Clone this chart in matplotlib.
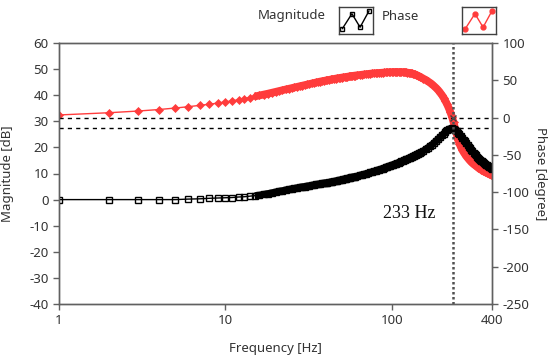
import numpy as np
import matplotlib
matplotlib.use('Agg')
import matplotlib.pyplot as plt
from matplotlib.ticker import NullLocator

plt.rcParams['font.family'] = ['Noto Sans', 'DejaVu Sans']
plt.rcParams['axes.unicode_minus'] = False

# frequency points [Hz]
freq = [1, 2, 3, 4, 5, 6, 7, 8, 9, 10, 11, 12, 13, 14, 15, 16, 17, 18, 19, 20,
        21, 22, 23, 24, 25, 26, 27, 28, 29, 30, 31, 32, 33, 34, 35, 36, 37, 38, 39, 40,
        41, 42, 43, 44, 45, 46, 47, 48, 49, 50, 51, 52, 53, 54, 55, 56, 57, 58, 59, 60,
        62, 64, 66, 68, 70, 72, 74, 76, 78, 80, 82, 84, 86, 88, 90, 92, 94, 96, 98, 100,
        102, 104, 106, 108, 110, 112, 114, 116, 118, 120, 122, 124, 126, 128, 130,
        132, 134, 136, 138, 140, 142, 144, 146, 148, 150,
        155, 160, 165, 170, 175, 180, 185, 190, 195, 200, 205, 210, 215, 220, 225,
        230, 235, 240, 245, 250, 255, 260, 265, 270, 275, 280, 285, 290, 295, 300,
        305, 310, 315, 320, 325, 330, 335, 340, 345, 350, 355, 360, 365, 370, 375,
        380, 385, 390, 395, 400]

# magnitude [dB]
magnitude = [0, 0, 0, 0, 0, 0.2, 0.3, 0.5, 0.6, 0.7, 0.8, 1.0, 1.1, 1.3, 1.5, 1.7, 2.0, 2.3, 2.6, 2.9,
             3.2, 3.4, 3.7, 3.9, 4.1, 4.3, 4.5, 4.7, 4.9, 5.0, 5.2, 5.3, 5.5, 5.6, 5.8, 5.9, 6.0, 6.2, 6.3, 6.4,
             6.5, 6.6, 6.8, 6.9, 7.0, 7.1, 7.3, 7.4, 7.5, 7.6, 7.8, 7.9, 8.0, 8.1, 8.3, 8.4, 8.5, 8.6, 8.7, 8.8,
             9.0, 9.3, 9.5, 9.7, 9.9, 10.1, 10.4, 10.6, 10.8, 11.0, 11.3, 11.5, 11.7, 11.9, 12.1, 12.4, 12.6, 12.8, 13.0, 13.2,
             13.4, 13.6, 13.8, 14.0, 14.2, 14.4, 14.6, 14.8, 15.0, 15.2, 15.4, 15.6, 15.8, 16.0, 16.2,
             16.4, 16.6, 16.8, 17.0, 17.2, 17.4, 17.6, 17.8, 18.0, 18.2,
             18.7, 19.3, 19.9, 20.5, 21.1, 21.8, 22.5, 23.2, 23.9, 24.6, 25.3, 25.9, 26.5, 26.9, 27.2,
             27.3, 27.1, 26.7, 26.2, 25.6, 25.0, 24.4, 23.7, 23.0, 22.3, 21.6, 20.9, 20.3, 19.7, 19.1,
             18.5, 18.0, 17.5, 17.0, 16.5, 16.1, 15.7, 15.3, 14.9, 14.6, 14.3, 14.0, 13.7, 13.4, 13.1,
             12.8, 12.6, 12.3, 12.1, 11.9]

# phase [degree]
phase = [3.5, 6.5, 8.8, 10.8, 12.8, 14.6, 16.3, 17.9, 19.4, 20.9, 22.4, 23.9, 25.4, 26.9, 28.3, 29.6, 30.9, 32.1, 33.3, 34.5,
         35.6, 36.7, 37.7, 38.7, 39.6, 40.5, 41.4, 42.2, 43.0, 43.8, 44.5, 45.2, 45.9, 46.5, 47.1, 47.7, 48.3, 48.8, 49.3, 49.8,
         50.2, 50.7, 51.1, 51.5, 51.9, 52.3, 52.7, 53.0, 53.4, 53.7, 54.0, 54.3, 54.6, 54.9, 55.2, 55.4, 55.7, 55.9, 56.2, 56.4,
         56.8, 57.2, 57.6, 58.0, 58.3, 58.6, 58.9, 59.2, 59.4, 59.7, 59.9, 60.1, 60.3, 60.4, 60.6, 60.7, 60.8, 60.9, 61.0, 61.1,
         61.1, 61.2, 61.2, 61.2, 61.2, 61.2, 61.1, 61.1, 61.0, 60.8, 60.6, 60.4, 60.2, 59.9, 59.6,
         59.2, 58.8, 58.3, 57.8, 57.2, 56.6, 56.0, 55.4, 54.7, 54.0,
         52.3, 50.5, 48.6, 46.6, 44.4, 42.0, 39.5, 36.7, 33.6, 30.2, 26.4, 22.2, 17.6, 12.6, 7.0,
         1.0, -6.5, -14.5, -22.5, -29.5, -35.0, -39.5, -43.3, -46.5, -49.3, -51.8, -54.0, -56.0, -57.8, -59.5,
         -61.0, -62.4, -63.7, -64.9, -66.0, -67.0, -68.0, -68.9, -69.8, -70.6, -71.4, -72.2, -72.9, -73.6, -74.3,
         -74.9, -75.5, -76.1, -76.6, -77.1]

xticks = [1, 10, 100, 400]
mag_ticks = [-40, -30, -20, -10, 0, 10, 20, 30, 40, 50, 60]
phase_ticks = [-250, -200, -150, -100, -50, 0, 50, 100]

f_res = 233
mag_peak = 27.3
dense_from = 15   # above this the markers merge into a solid band

red = '#ff3c3c'
spine_col = '#606060'
txt_col = '#333333'

f = np.array(freq)
mag = np.array(magnitude)
ph = np.array(phase)
dense = f >= dense_from

fig = plt.figure(figsize=(5.52, 3.56), dpi=100)
ax = fig.add_axes([59 / 552, 1 - 304 / 356, (492 - 59) / 552, (304 - 43) / 356])
ax2 = ax.twinx()

# magnitude drawn above phase
ax.set_zorder(ax2.get_zorder() + 1)
ax.patch.set_visible(False)

ax2.plot(f, ph, color=red, lw=1, marker='D', ms=4.5, mec=red, mfc=red, mew=0.5)
ax2.plot(f[dense], ph[dense], color=red, lw=5.5, solid_capstyle='butt')
ax.plot(f, mag, color='black', lw=1, marker='s', ms=4.5, mfc='none', mec='black', mew=1)
ax.plot(f[dense], mag[dense], color='black', lw=5.0, solid_capstyle='butt')

ax.axhline(mag_peak, color='black', lw=1, ls=(0, (3, 3)))
ax2.axhline(0, color='black', lw=1, ls=(0, (3, 3)))
ax.axvline(f_res, color='#505050', lw=1.8, ls=(0, (1, 1)))
ax2.plot([f_res], [0], marker='x', ms=5, color='#404040', mew=1)

ax.text(128, -5.2, '233 Hz', family='Liberation Serif', fontsize=13,
        ha='center', va='center', color='#111111')

ax.set_xscale('log')
ax.set_xlim(1, 400)
ax.set_ylim(-40, 60)
ax2.set_ylim(-250, 100)
ax.set_xticks(xticks)
ax.set_xticklabels([str(t) for t in xticks])
ax.xaxis.set_minor_locator(NullLocator())
ax.set_yticks(mag_ticks)
ax2.set_yticks(phase_ticks)

for a in (ax, ax2):
    for s in a.spines.values():
        s.set_color(spine_col)
        s.set_linewidth(1)
    a.tick_params(colors=spine_col, labelcolor=txt_col, labelsize=9.5, length=4, width=1)

ax.set_ylabel('Magnitude [dB]', fontsize=9.5, color=txt_col)
ax.yaxis.set_label_coords(-0.104, 0.5)
ax2.set_ylabel('Phase [degree]', fontsize=9.5, color=txt_col, rotation=-90, va='center')
ax2.yaxis.set_label_coords(1.111, 0.5)
ax.set_xlabel('Frequency [Hz]', fontsize=9.5, color=txt_col)
ax.xaxis.set_label_coords(0.5, -0.146)

# legend (top)
fig.text(258 / 552, 1 - 16 / 356, 'Magnitude', fontsize=9.5, color=txt_col, va='center', ha='left')
fig.text(382 / 552, 1 - 16 / 356, 'Phase', fontsize=9.5, color=txt_col, va='center', ha='left')

icon_x = [0.1, 0.38, 0.62, 0.88]
icon_y = [0.2, 0.75, 0.25, 0.85]
for x0, col, mk, fc in [(339, 'black', 's', 'none'), (462, red, 'o', red)]:
    ia = fig.add_axes([x0 / 552, 1 - 34 / 356, 34 / 552, 27 / 356])
    ia.set_xlim(0, 1)
    ia.set_ylim(0, 1)
    ia.set_xticks([])
    ia.set_yticks([])
    for s in ia.spines.values():
        s.set_color('#404040')
        s.set_linewidth(1)
    ia.plot(icon_x, icon_y, color=col, lw=1, marker=mk, ms=3.5, mfc=fc, mec=col)

fig.savefig('out.png', dpi=100)
